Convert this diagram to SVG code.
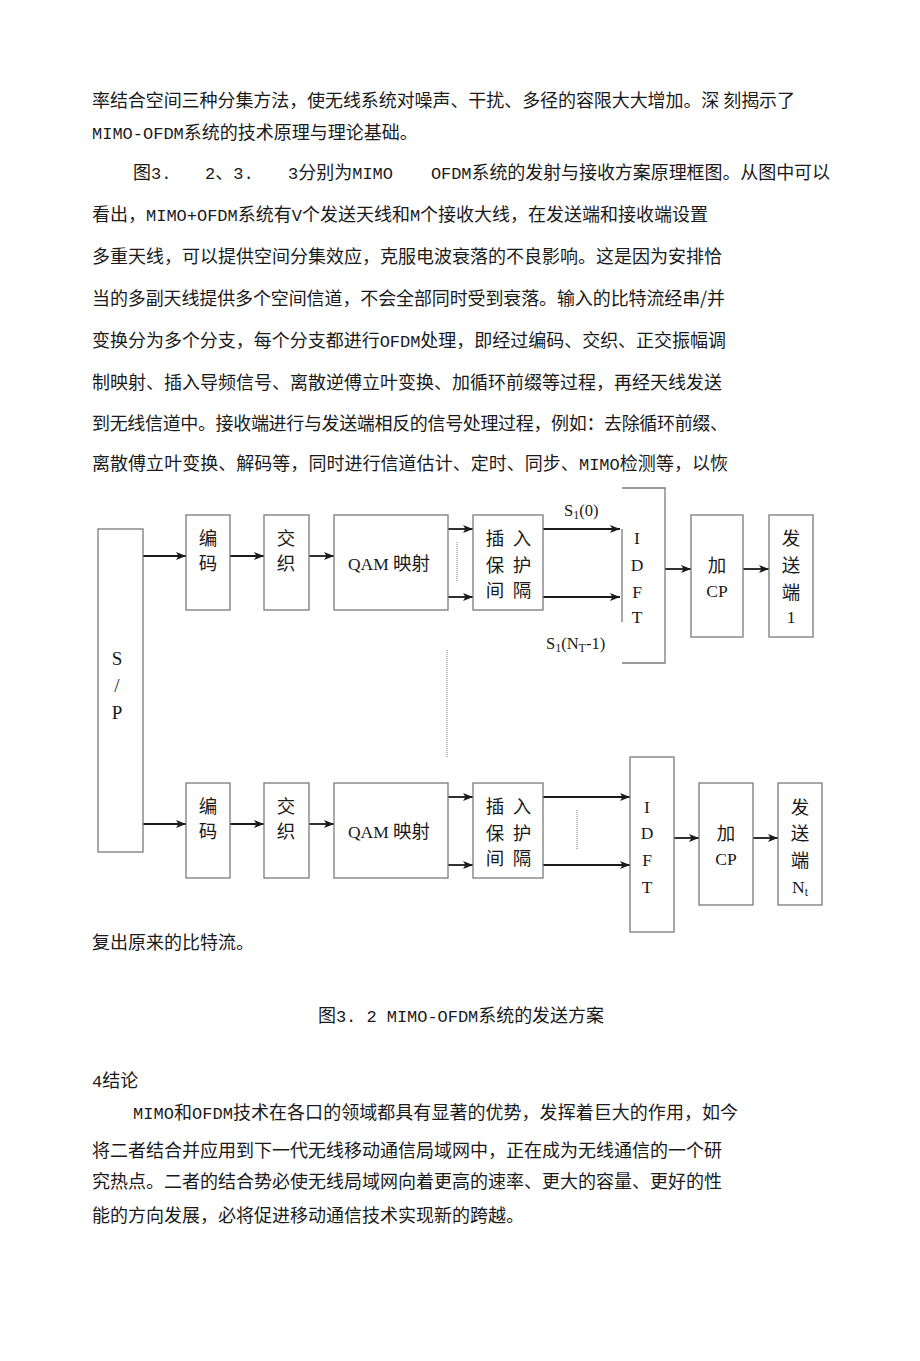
<svg xmlns="http://www.w3.org/2000/svg" width="920" height="1361" viewBox="0 0 920 1361">
<style>
.p{font-family:"Noto Sans CJK SC","Noto Sans",sans-serif;font-size:18px;fill:#1a1a1a}
.m{font-family:"Liberation Mono",monospace;font-size:17px}
.box{fill:none;stroke:#7a7a7a;stroke-width:1.3}
.d{font-family:"Liberation Serif","Noto Sans CJK SC",serif;font-size:17.5px;fill:#1a1a1a;text-anchor:middle}
.k{font-size:18.5px}
.big{font-size:19px}
.lbl{font-family:"Liberation Serif",serif;font-size:16.5px;fill:#1a1a1a}
.c{stroke:#1a1a1a;stroke-width:1.8;fill:none;marker-end:url(#ah)}
.dot{stroke:#777;stroke-width:1;stroke-dasharray:1 1;fill:none}
</style>
<defs>
<marker id="ah" viewBox="0 0 10 8" refX="10" refY="4" markerWidth="10" markerHeight="8" markerUnits="userSpaceOnUse" orient="auto">
<path d="M0,0 L10,4 L0,8 L2.5,4 z" fill="#1a1a1a"/>
</marker>
</defs>
<rect width="920" height="1361" fill="#fff"/>

<g id="text-top">
<text class="p" x="92" y="107" textLength="703" lengthAdjust="spacing">率结合空间三种分集方法，使无线系统对噪声、干扰、多径的容限大大增加。深 刻揭示了</text>
<text class="p" x="92" y="139"><tspan class="m">MIMO-OFDM</tspan>系统的技术原理与理论基础。</text>
<text class="p" x="133" y="179">图<tspan class="m">3.</tspan></text>
<text class="p" x="205" y="179"><tspan class="m">2</tspan>、<tspan class="m">3.</tspan></text>
<text class="p" x="288" y="179"><tspan class="m">3</tspan>分别为<tspan class="m">MIMO</tspan></text>
<text class="p" x="431" y="179" textLength="399" lengthAdjust="spacing"><tspan class="m">OFDM</tspan>系统的发射与接收方案原理框图。从图中可以</text>
<text class="p" x="92" y="221" textLength="616" lengthAdjust="spacing">看出，<tspan class="m">MIMO+OFDM</tspan>系统有<tspan class="m">V</tspan>个发送天线和<tspan class="m">M</tspan>个接收大线，在发送端和接收端设置</text>
<text class="p" x="92" y="263" textLength="630" lengthAdjust="spacing">多重天线，可以提供空间分集效应，克服电波衰落的不良影响。这是因为安排恰</text>
<text class="p" x="92" y="305" textLength="633" lengthAdjust="spacing">当的多副天线提供多个空间信道，不会全部同时受到衰落。输入的比特流经串/并</text>
<text class="p" x="92" y="347" textLength="634" lengthAdjust="spacing">变换分为多个分支，每个分支都进行<tspan class="m">OFDM</tspan>处理，即经过编码、交织、正交振幅调</text>
<text class="p" x="92" y="389" textLength="630" lengthAdjust="spacing">制映射、插入导频信号、离散逆傅立叶变换、加循环前缀等过程，再经天线发送</text>
<text class="p" x="92" y="430" textLength="636" lengthAdjust="spacing">到无线信道中。接收端进行与发送端相反的信号处理过程，例如：去除循环前缀、</text>
<text class="p" x="92" y="470" textLength="636" lengthAdjust="spacing">离散傅立叶变换、解码等，同时进行信道估计、定时、同步、<tspan class="m">MIMO</tspan>检测等，以恢</text>
</g>

<g id="connectors">
<line class="c" x1="143" y1="556" x2="186" y2="556"/>
<line class="c" x1="230" y1="556" x2="264" y2="556"/>
<line class="c" x1="309" y1="556" x2="334" y2="556"/>
<line class="c" x1="448" y1="529" x2="473" y2="529"/>
<line class="c" x1="448" y1="597" x2="473" y2="597"/>
<line class="c" x1="543" y1="529" x2="620" y2="529"/>
<line class="c" x1="543" y1="597" x2="620" y2="597"/>
<line class="c" x1="665" y1="569" x2="691" y2="569"/>
<line class="c" x1="743" y1="569" x2="769" y2="569"/>
<line class="c" x1="143" y1="824" x2="186" y2="824"/>
<line class="c" x1="230" y1="824" x2="264" y2="824"/>
<line class="c" x1="309" y1="824" x2="334" y2="824"/>
<line class="c" x1="448" y1="797" x2="473" y2="797"/>
<line class="c" x1="448" y1="865" x2="473" y2="865"/>
<line class="c" x1="543" y1="797" x2="630" y2="797"/>
<line class="c" x1="543" y1="865" x2="630" y2="865"/>
<line class="c" x1="674" y1="838" x2="699" y2="838"/>
<line class="c" x1="753" y1="838" x2="778" y2="838"/>
<line class="dot" x1="457" y1="542" x2="457" y2="582"/>
<line class="dot" x1="447" y1="650" x2="447" y2="757"/>
<line class="dot" x1="577" y1="810" x2="577" y2="850"/>
</g>

<g id="sp">
<rect class="box" x="98" y="529" width="45" height="323"/>
<text class="d big" x="117" y="665">S</text>
<text class="d big" x="117" y="692">/</text>
<text class="d big" x="117" y="719">P</text>
</g>

<g id="enc1">
<rect class="box" x="186" y="515" width="44" height="95"/>
<text class="d k" x="208" y="545">编</text>
<text class="d k" x="208" y="570">码</text>
</g>
<g id="intl1">
<rect class="box" x="264" y="515" width="45" height="95"/>
<text class="d k" x="286" y="545">交</text>
<text class="d k" x="286" y="570">织</text>
</g>
<g id="qam1">
<rect class="box" x="334" y="515" width="114" height="95"/>
<text class="d" x="389" y="570">QAM <tspan class="k">映射</tspan></text>
</g>
<g id="guard1">
<rect class="box" x="473" y="515" width="70" height="95"/>
<text class="d k" x="495" y="545">插</text>
<text class="d k" x="522" y="545">入</text>
<text class="d k" x="495" y="572">保</text>
<text class="d k" x="522" y="572">护</text>
<text class="d k" x="495" y="597">间</text>
<text class="d k" x="522" y="597">隔</text>
</g>
<g id="idft1">
<path class="box" d="M622,488 H665 V663 H622 M622,529 V622"/>
<text class="d" x="637" y="544">I</text>
<text class="d" x="637" y="571">D</text>
<text class="d" x="637" y="598">F</text>
<text class="d" x="637" y="623">T</text>
<text class="lbl" x="564" y="516">S<tspan font-size="12" dy="3">1</tspan><tspan dy="-3">(0)</tspan></text>
<text class="lbl" x="546" y="649">S<tspan font-size="12" dy="3">1</tspan><tspan dy="-3">(N</tspan><tspan font-size="12" dy="3">T</tspan><tspan dy="-3">-1)</tspan></text>
</g>
<g id="cp1">
<rect class="box" x="691" y="515" width="52" height="122"/>
<text class="d k" x="717" y="572">加</text>
<text class="d" x="717" y="597">CP</text>
</g>
<g id="tx1">
<rect class="box" x="769" y="515" width="44" height="122"/>
<text class="d k" x="791" y="545">发</text>
<text class="d k" x="791" y="572">送</text>
<text class="d k" x="791" y="599">端</text>
<text class="d" x="791" y="623">1</text>
</g>

<g id="enc2">
<rect class="box" x="186" y="783" width="44" height="95"/>
<text class="d k" x="208" y="813">编</text>
<text class="d k" x="208" y="838">码</text>
</g>
<g id="intl2">
<rect class="box" x="264" y="783" width="45" height="95"/>
<text class="d k" x="286" y="813">交</text>
<text class="d k" x="286" y="838">织</text>
</g>
<g id="qam2">
<rect class="box" x="334" y="783" width="114" height="95"/>
<text class="d" x="389" y="838">QAM <tspan class="k">映射</tspan></text>
</g>
<g id="guard2">
<rect class="box" x="473" y="783" width="70" height="95"/>
<text class="d k" x="495" y="813">插</text>
<text class="d k" x="522" y="813">入</text>
<text class="d k" x="495" y="840">保</text>
<text class="d k" x="522" y="840">护</text>
<text class="d k" x="495" y="865">间</text>
<text class="d k" x="522" y="865">隔</text>
</g>
<g id="idft2">
<rect class="box" x="630" y="757" width="44" height="175"/>
<text class="d" x="647" y="813">I</text>
<text class="d" x="647" y="839">D</text>
<text class="d" x="647" y="866">F</text>
<text class="d" x="647" y="893">T</text>
</g>
<g id="cp2">
<rect class="box" x="699" y="783" width="54" height="122"/>
<text class="d k" x="726" y="840">加</text>
<text class="d" x="726" y="865">CP</text>
</g>
<g id="txN">
<rect class="box" x="778" y="783" width="44" height="122"/>
<text class="d k" x="800" y="814">发</text>
<text class="d k" x="800" y="840">送</text>
<text class="d k" x="800" y="867">端</text>
<text class="d" x="800" y="893">N<tspan font-size="12" dy="3">t</tspan></text>
</g>

<g id="text-bottom">
<text class="p" x="92" y="949">复出原来的比特流。</text>
<text class="p" x="318" y="1022" textLength="286" lengthAdjust="spacing">图<tspan class="m">3. 2 MIMO-OFDM</tspan>系统的发送方案</text>
<text class="p" x="92" y="1087"><tspan class="m">4</tspan>结论</text>
<text class="p" x="133" y="1119" textLength="605" lengthAdjust="spacing"><tspan class="m">MIMO</tspan>和<tspan class="m">OFDM</tspan>技术在各口的领域都具有显著的优势，发挥着巨大的作用，如今</text>
<text class="p" x="92" y="1157" textLength="630" lengthAdjust="spacing">将二者结合并应用到下一代无线移动通信局域网中，正在成为无线通信的一个研</text>
<text class="p" x="92" y="1188" textLength="630" lengthAdjust="spacing">究热点。二者的结合势必使无线局域网向着更高的速率、更大的容量、更好的性</text>
<text class="p" x="92" y="1222">能的方向发展，必将促进移动通信技术实现新的跨越。</text>
</g>
</svg>
